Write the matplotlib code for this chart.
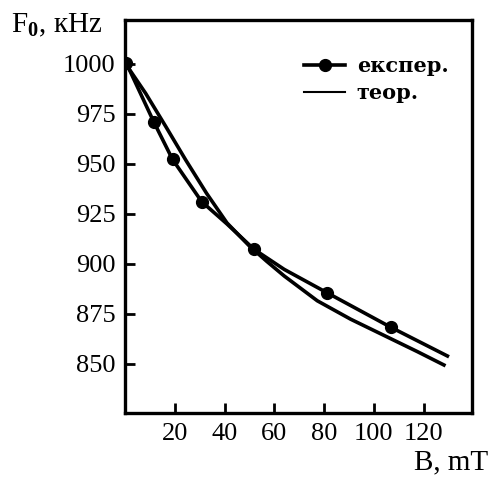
import matplotlib
matplotlib.use("Agg")
import matplotlib.pyplot as plt

plt.rcParams["font.family"] = ["Liberation Serif", "DejaVu Serif"]
plt.rcParams["mathtext.fontset"] = "custom"
plt.rcParams["mathtext.rm"] = "Liberation Serif"
plt.rcParams["mathtext.bf"] = "Liberation Serif:bold"

# експер. (markers + line points)
B_exp = [0.5, 11.5, 19.1, 30.8, 41.0, 51.9, 64.0, 81.1, 106.8, 129.6]
F_exp = [1000.5, 971.2, 952.3, 931.2, 920.0, 907.3, 897.3, 885.7, 868.4, 854.0]
exp_marks = [0, 1, 2, 3, 5, 7, 8]

# теор.
B_th = [0, 8.3, 16.4, 24.4, 32.8, 41.0, 50.0, 57.0, 64.0, 77.3, 90.7, 104.1, 117.5, 128.2]
F_th = [1000.5, 985.3, 968.7, 952.0, 935.3, 920.5, 909.0, 901.3, 894.0, 881.6, 872.4, 864.3, 856.2, 849.5]

x_ticks = [20, 40, 60, 80, 100, 120]
y_ticks = [850, 875, 900, 925, 950, 975, 1000]

fig = plt.figure(figsize=(4.92, 4.79), dpi=100)
ax = fig.add_axes([0.2541, 0.1378, 0.7053, 0.8205])

ax.plot(B_exp, F_exp, "-", color="black", lw=2.6, marker="o", ms=8.5,
        markevery=exp_marks, label="експер.", solid_joinstyle="round")
ax.plot(B_th, F_th, "-", color="black", lw=2.6, label="теор.", solid_joinstyle="round")

ax.set_xlim(0, 139.5)
ax.set_ylim(825.5, 1022)
ax.set_xticks(x_ticks)
ax.set_yticks(y_ticks)
ax.tick_params(direction="in", length=7, width=2, labelsize=19, pad=7)
for s in ax.spines.values():
    s.set_linewidth(2.4)

leg = ax.legend(loc="upper left", bbox_to_anchor=(0.485, 0.935), frameon=False,
                prop={"family": "DejaVu Serif", "weight": "bold", "size": 15},
                handlelength=2.0, handletextpad=0.55, labelspacing=0.35, borderpad=0)
leg.legend_handles[1].set_linewidth(1.5)

fig.text(0.022, 0.933, r"F$_\mathbf{0}$, кHz", fontsize=21, ha="left", va="baseline")
fig.text(0.993, 0.008, "B, mT", fontsize=21, ha="right", va="bottom")

fig.savefig("out.png", dpi=100)
